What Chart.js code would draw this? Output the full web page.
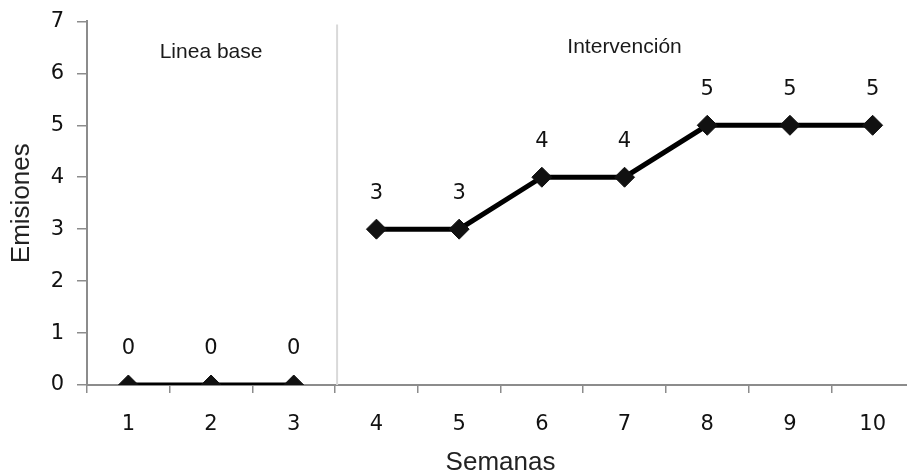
<!DOCTYPE html>
<html>
<head>
<meta charset="utf-8">
<script src="https://cdn.jsdelivr.net/npm/chart.js@4/dist/chart.umd.min.js"></script>
<style>
  html, body { margin: 0; padding: 0; background: #fff; overflow: hidden; }
  /* the reference crops the right end of the x axis, so the canvas is a bit wider than the window */
  #chart { display: block; }
</style>
</head>
<body>
<canvas id="chart" width="925" height="474"></canvas>
<script>
// ---------------------------------------------------------------------------
// Data
// ---------------------------------------------------------------------------
const weeks = ["1", "2", "3", "4", "5", "6", "7", "8", "9", "10"];
const baseline = [0, 0, 0, null, null, null, null, null, null, null];
const intervention = [null, null, null, 3, 3, 4, 4, 5, 5, 5];
const yTicks = [0, 1, 2, 3, 4, 5, 6, 7];

// phase labels: text, category it sits over, height in y units
const phases = [
  { text: "Linea base", at: 1, y: 6.3 },
  { text: "Intervención", at: 6, y: 6.4 },
];

const AXIS_COLOR = "#8c8c8c";
const TICK_FAMILY = "'DejaVu Sans', Verdana, sans-serif";
const X_TICK_FONT = { family: TICK_FAMILY, size: 21 };
const Y_TICK_FONT = { family: TICK_FAMILY, size: 21, lineHeight: 0.8 };
const TITLE_FONT = { family: "'Liberation Sans', Arial, sans-serif", size: 26, lineHeight: 0.85 };

// ---------------------------------------------------------------------------
// Annotations: phase divider, phase labels and value labels
// ---------------------------------------------------------------------------
const annotations = {
  id: "annotations",
  beforeDatasetsDraw(chart) {
    const { ctx, chartArea, scales } = chart;
    const x = (scales.x.getPixelForValue(2) + scales.x.getPixelForValue(3)) / 2;
    ctx.save();
    ctx.strokeStyle = "#d9d9d9";
    ctx.lineWidth = 2;
    ctx.beginPath();
    ctx.moveTo(x + 2, chartArea.top + 3);
    ctx.lineTo(x + 2, chartArea.bottom);
    ctx.stroke();
    ctx.restore();
  },
  afterDatasetsDraw(chart) {
    const { ctx, scales } = chart;
    ctx.save();
    ctx.textAlign = "center";

    ctx.fillStyle = "#1a1a1a";
    ctx.font = "21px 'Liberation Sans', Arial, sans-serif";
    ctx.textBaseline = "alphabetic";
    phases.forEach((p) => {
      ctx.fillText(p.text, scales.x.getPixelForValue(p.at), scales.y.getPixelForValue(p.y));
    });

    ctx.fillStyle = "#111";
    ctx.font = `21px ${TICK_FAMILY}`;
    ctx.textBaseline = "middle";
    chart.data.datasets.forEach((ds, i) => {
      const meta = chart.getDatasetMeta(i);
      meta.data.forEach((pt, j) => {
        if (ds.data[j] === null) return;
        ctx.fillText(String(ds.data[j]), pt.x, pt.y - 36);
      });
    });
    ctx.restore();
  },
};

const lineStyle = {
  borderColor: "#000",
  borderWidth: 5,
  pointStyle: "rectRot",
  pointRadius: 10,
  pointHoverRadius: 10,
  pointBackgroundColor: "#111",
  pointBorderColor: "#111",
  pointBorderWidth: 1,
  spanGaps: false,
  tension: 0,
};

new Chart(document.getElementById("chart"), {
  type: "line",
  data: {
    labels: weeks,
    datasets: [
      { label: "Linea base", data: baseline, ...lineStyle },
      { label: "Intervención", data: intervention, ...lineStyle },
    ],
  },
  options: {
    responsive: false,
    animation: false,
    devicePixelRatio: 1,
    layout: { padding: { top: 18, right: 1, left: 0, bottom: 0 } },
    plugins: { legend: { display: false }, tooltip: { enabled: false } },
    scales: {
      x: {
        type: "category",
        offset: true,
        afterFit: (s) => { s.height = 89; },
        border: { color: AXIS_COLOR, width: 2 },
        grid: { offset: true, drawOnChartArea: false, drawTicks: true, tickLength: 8, color: AXIS_COLOR, lineWidth: 1.5 },
        ticks: { color: "#111", font: X_TICK_FONT, padding: 19, maxRotation: 0 },
        title: { display: true, text: "Semanas", color: "#222", font: TITLE_FONT, padding: { top: 0, bottom: 0 } },
      },
      y: {
        min: 0,
        max: 7,
        afterFit: (s) => { s.width = 87; },
        afterBuildTicks: (s) => { s.ticks = yTicks.map((v) => ({ value: v })); },
        border: { color: AXIS_COLOR, width: 2 },
        grid: { drawOnChartArea: false, drawTicks: true, tickLength: 10, color: AXIS_COLOR, lineWidth: 1.5 },
        ticks: { color: "#111", font: Y_TICK_FONT, padding: 13 },
        title: { display: true, text: "Emisiones", color: "#222", font: TITLE_FONT, padding: { top: 11, bottom: 0 } },
      },
    },
  },
  plugins: [annotations],
});
</script>
</body>
</html>
